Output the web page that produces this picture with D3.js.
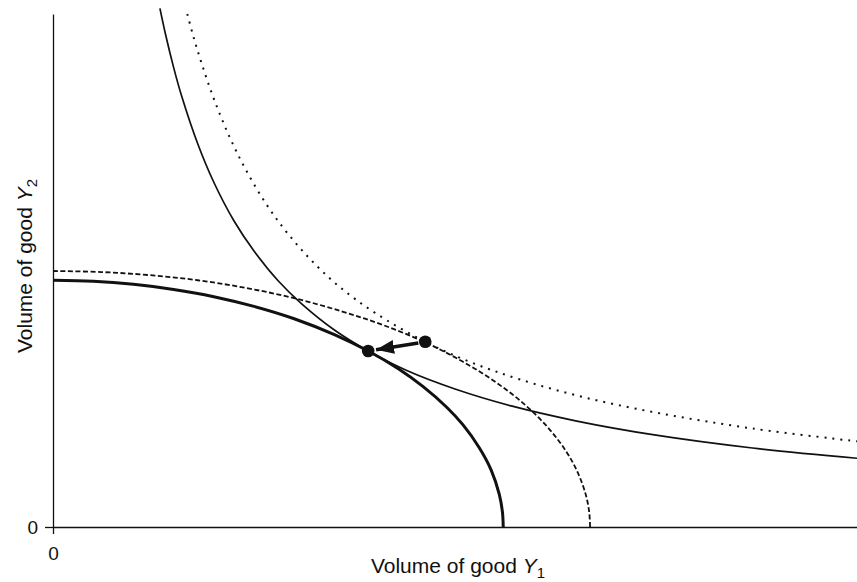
<!DOCTYPE html>
<html lang="en">
<head>
  <meta charset="UTF-8">
  <title>PPF and indifference curves</title>
  <script src="https://d3js.org/d3.v7.min.js"></script>
  <style>
    * { margin: 0; padding: 0; box-sizing: border-box; }
    body { background: #fff; font-family: Arial, "Liberation Sans", sans-serif; }
    #chart { width: 857px; height: 582px; }
  </style>
</head>
<body>
  <div id="chart"></div>
  <script>
    // curves, x and y in arbitrary units (0-100)
    const ppfInner = [[0,48.1],[5,47.9],[10,47.3],[15,46.3],[20,44.9],[25,43.0],[30,40.6],[35,37.5],[39.2,34.3],[43,30.8],[46,27.4],[49,23.3],[51,19.9],[53,15.5],[54.5,11.1],[55.5,6.4],[55.9,2.9],[56,0]];
    const ppfOuter = [[0,49.9],[6,49.7],[12,49.1],[18,48.1],[24,46.6],[30,44.6],[36,42.0],[41,39.4],[46.3,36.0],[51,32.2],[55,28.3],[58.5,24.1],[61.5,19.5],[63.8,14.8],[65.3,10.5],[66.3,6.1],[66.7,2.8],[66.8,0]];
    const icLow = [[13.3,101.1],[14,96.0],[15,89.6],[16,84.0],[18,74.7],[20,67.2],[22.5,59.7],[25,53.8],[28,48.0],[31,43.4],[35,38.4],[39.2,34.3],[44,30.5],[50,26.9],[57,23.6],[65,20.7],[75,17.9],[87,15.4],[100,13.4]];
    const icHigh = [[16.7,100.0],[17.5,95.4],[18.5,90.3],[20,83.5],[22,75.9],[24,69.6],[26.5,63.0],[29,57.6],[32,52.2],[35.5,47.0],[40,41.8],[46.3,36.1],[52,32.1],[58,28.8],[66,25.3],[75,22.3],[87,19.2],[100,16.7]];
    const pointNew = [39.2, 34.3];
    const pointOld = [46.3, 36.1];
    const xTicks = [0];
    const yTicks = [0];

    const margin = {top: 14, right: 0, bottom: 55, left: 53},
          width = 857 - margin.left - margin.right,
          height = 582 - margin.top - margin.bottom;

    const svg = d3.select("#chart")
                  .append("svg")
                  .attr("width", 857)
                  .attr("height", 582)
                  .append("g")
                  .attr("transform", `translate(${margin.left},${margin.top})`);

    const x = d3.scaleLinear().domain([0, 100]).range([0, width]);
    const y = d3.scaleLinear().domain([0, 100]).range([height, 0]);

    svg.append("g")
       .attr("transform", `translate(0,${height})`)
       .call(d3.axisBottom(x).tickValues(xTicks).tickSize(7).tickSizeOuter(0).tickPadding(13))
       .call(g => g.selectAll("text").style("font-size", "19px").attr("fill", "#111"))
       .call(g => g.selectAll("path, line").attr("stroke", "#111").attr("stroke-width", 1.3));

    svg.append("g")
       .call(d3.axisLeft(y).tickValues(yTicks).tickSize(8).tickSizeOuter(0).tickPadding(7))
       .call(g => g.selectAll("text").style("font-size", "19px").attr("fill", "#111"))
       .call(g => g.selectAll("path, line").attr("stroke", "#111").attr("stroke-width", 1.3));

    const line = d3.line()
                   .x(d => x(d[0]))
                   .y(d => y(d[1]))
                   .curve(d3.curveCatmullRom.alpha(0.5));

    svg.append("path").datum(ppfOuter)
       .attr("d", line).attr("fill", "none")
       .attr("stroke", "#111").attr("stroke-width", 1.8)
       .attr("stroke-dasharray", "5,2.5");

    svg.append("path").datum(icHigh)
       .attr("d", line).attr("fill", "none")
       .attr("stroke", "#111").attr("stroke-width", 2)
       .attr("stroke-dasharray", "2,6");

    svg.append("path").datum(icLow)
       .attr("d", line).attr("fill", "none")
       .attr("stroke", "#111").attr("stroke-width", 1.7);

    svg.append("path").datum(ppfInner)
       .attr("d", line).attr("fill", "none")
       .attr("stroke", "#111").attr("stroke-width", 3);

    // arrow from old point to new point
    svg.append("defs").append("marker")
       .attr("id", "head")
       .attr("markerUnits", "userSpaceOnUse")
       .attr("viewBox", "0 -7 18 14")
       .attr("refX", 18).attr("refY", 0)
       .attr("markerWidth", 18).attr("markerHeight", 14)
       .attr("orient", "auto")
       .append("path")
       .attr("d", "M0,-7L18,0L0,7Z")
       .attr("fill", "#111");

    const x0 = x(pointOld[0]), y0 = y(pointOld[1]),
          x1 = x(pointNew[0]), y1 = y(pointNew[1]);
    const len = Math.hypot(x1 - x0, y1 - y0), ux = (x1 - x0) / len, uy = (y1 - y0) / len;
    svg.append("line")
       .attr("x1", x0 + ux * 7).attr("y1", y0 + uy * 7)
       .attr("x2", x1 - ux * 8).attr("y2", y1 - uy * 8)
       .attr("stroke", "#111").attr("stroke-width", 3.5)
       .attr("marker-end", "url(#head)");

    svg.selectAll(".pt")
       .data([pointNew, pointOld])
       .enter()
       .append("circle")
       .attr("class", "pt")
       .attr("cx", d => x(d[0]))
       .attr("cy", d => y(d[1]))
       .attr("r", 6.3)
       .attr("fill", "#111");

    // axis titles
    const xt = svg.append("text")
                  .attr("x", 405).attr("y", 559)
                  .attr("text-anchor", "middle")
                  .style("font-size", "21px").attr("fill", "#111");
    xt.append("tspan").text("Volume of good ");
    xt.append("tspan").style("font-style", "italic").text("Y");
    xt.append("tspan").attr("dy", 5).style("font-size", "15px").text("1");

    const yt = svg.append("text")
                  .attr("transform", `translate(${32 - margin.left},${252}) rotate(-90)`)
                  .attr("text-anchor", "middle")
                  .style("font-size", "21px").attr("fill", "#111");
    yt.append("tspan").text("Volume of good ");
    yt.append("tspan").style("font-style", "italic").text("Y");
    yt.append("tspan").attr("dy", 5).style("font-size", "15px").text("2");
  </script>
</body>
</html>
